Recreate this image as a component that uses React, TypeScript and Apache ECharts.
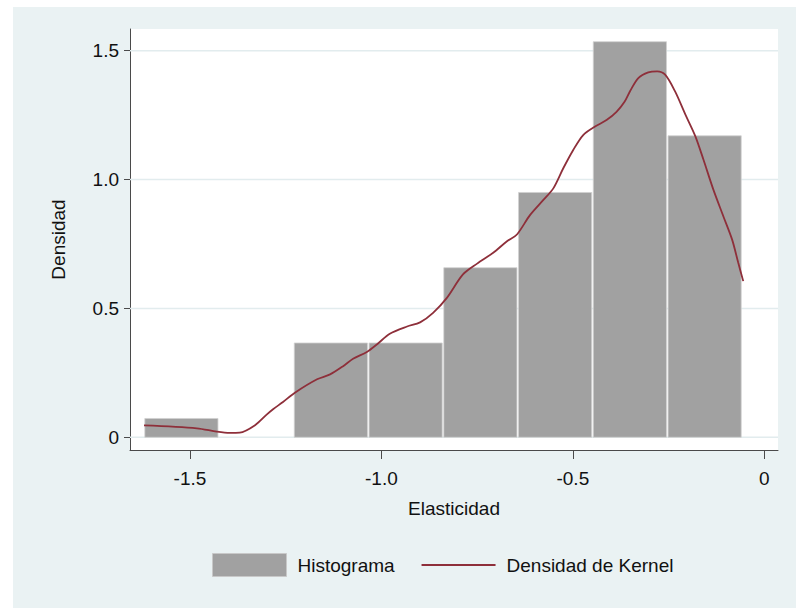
import { useEffect, useRef } from "react";
import * as echarts from "echarts";

const BG_COLOR = "#eaf2f3";
const BAR_COLOR = "#a1a1a1";
const KERNEL_COLOR = "#8e2f3a";
const FONT = "'Liberation Sans', Arial, sans-serif";

// histogram bin edges (elasticity) and densities
const binEdges = [-1.62, -1.4248, -1.2296, -1.0343, -0.8391, -0.6439, -0.4487, -0.2534, -0.0582];
const binDensity = [0.073, 0, 0.366, 0.366, 0.658, 0.95, 1.535, 1.17];

// kernel density curve
const kernelX = [
  -1.62, -1.482, -1.43, -1.396, -1.37, -1.33, -1.299, -1.283, -1.257, -1.226,
  -1.168, -1.134, -1.1, -1.074, -1.038, -1.012, -0.978, -0.933, -0.899, -0.865,
  -0.829, -0.787, -0.75, -0.708, -0.672, -0.646, -0.612, -0.577, -0.551, -0.525,
  -0.499, -0.473, -0.443, -0.412, -0.386, -0.365, -0.35, -0.329, -0.303, -0.28,
  -0.259, -0.233, -0.206, -0.18, -0.159, -0.133, -0.107, -0.084, -0.068, -0.055,
];
const kernelY = [
  0.046, 0.035, 0.022, 0.017, 0.018, 0.047, 0.089, 0.109, 0.137, 0.173,
  0.225, 0.244, 0.276, 0.305, 0.331, 0.36, 0.402, 0.43, 0.446, 0.483,
  0.541, 0.632, 0.674, 0.716, 0.761, 0.787, 0.862, 0.921, 0.966, 1.044,
  1.115, 1.173, 1.205, 1.231, 1.263, 1.302, 1.345, 1.394, 1.416, 1.42,
  1.407, 1.342, 1.252, 1.168, 1.078, 0.961, 0.858, 0.767, 0.677, 0.606,
];

const xTicks = [-1.5, -1.0, -0.5, 0];
const yTicks = [0, 0.5, 1.0, 1.5];

const X_MIN = -1.6566;
const X_MAX = 0.0358;

const fmt = (v: number) => (v === 0 ? "0" : v.toFixed(1));

export default function App() {
  const ref = useRef<HTMLDivElement>(null);

  useEffect(() => {
    if (!ref.current) return;
    const chart = echarts.init(ref.current, null, { renderer: "svg" });

    const bins = binDensity.map((d, i) => [binEdges[i], binEdges[i + 1], d]);
    const kernel = kernelX.map((x, i) => [x, kernelY[i]]);

    const axisLine = { show: true, lineStyle: { color: "#4a4a4a", width: 1 } };

    chart.setOption({
      animation: false,
      backgroundColor: "#ffffff",
      textStyle: { fontFamily: FONT },
      graphic: [
        {
          type: "rect",
          z: -2,
          shape: { x: 13, y: 7, width: 783, height: 601 },
          style: { fill: BG_COLOR },
        },
        {
          type: "rect",
          z: -1,
          shape: { x: 130, y: 29, width: 648, height: 421 },
          style: { fill: "#ffffff" },
        },
      ],
      grid: { left: 130, right: 18, top: 29, bottom: 158 },
      legend: {
        left: 212,
        top: 553,
        padding: 0,
        itemWidth: 74,
        itemHeight: 23,
        itemGap: 26,
        textStyle: { fontSize: 19, color: "#111", fontFamily: FONT, padding: [0, 0, 0, 6] },
        data: [
          {
            name: "Histograma",
            icon: "rect",
            itemStyle: { color: BAR_COLOR, borderColor: "#c8c8c8", borderWidth: 1 },
          },
          {
            name: "Densidad de Kernel",
            itemStyle: { opacity: 0 },
            lineStyle: { color: KERNEL_COLOR, width: 1.8 },
          },
        ],
      },
      xAxis: {
        type: "value",
        min: X_MIN,
        max: X_MAX,
        name: "Elasticidad",
        nameLocation: "middle",
        nameGap: 49,
        nameTextStyle: { fontSize: 19, color: "#111", fontFamily: FONT },
        axisLine: { ...axisLine, onZero: false },
        axisTick: { show: true, length: 9, customValues: xTicks, lineStyle: { color: "#4a4a4a" } },
        axisLabel: {
          customValues: xTicks,
          formatter: fmt,
          fontSize: 19,
          color: "#111",
          margin: 19,
          fontFamily: FONT,
        },
        splitLine: { show: false },
      },
      yAxis: {
        type: "value",
        min: -0.0493,
        max: 1.5844,
        name: "Densidad",
        nameLocation: "middle",
        nameGap: 62,
        nameRotate: 90,
        nameTextStyle: { fontSize: 19, color: "#111", fontFamily: FONT },
        axisLine: { ...axisLine, onZero: false },
        axisTick: { show: true, length: 6, customValues: yTicks, lineStyle: { color: "#4a4a4a" } },
        axisLabel: {
          customValues: yTicks,
          formatter: fmt,
          fontSize: 19,
          color: "#111",
          margin: 11,
          fontFamily: FONT,
        },
        splitLine: { show: false },
      },
      series: [
        {
          name: "grid",
          type: "custom",
          z: 1,
          silent: true,
          data: yTicks.map((v) => [v]),
          renderItem: (_params: any, api: any) => {
            const v = api.value(0);
            const a = api.coord([X_MIN, v]);
            const b = api.coord([X_MAX, v]);
            return {
              type: "line",
              shape: { x1: a[0], y1: a[1], x2: b[0], y2: b[1] },
              style: { stroke: "#e2ecee", lineWidth: 1.5 },
            };
          },
        },
        {
          name: "Histograma",
          type: "custom",
          z: 2,
          data: bins,
          renderItem: (_params: any, api: any) => {
            const x0 = api.value(0);
            const x1 = api.value(1);
            const h = api.value(2);
            if (!h) return null;
            const p0 = api.coord([x0, h]);
            const p1 = api.coord([x1, 0]);
            return {
              type: "rect",
              shape: { x: p0[0] + 0.8, y: p0[1], width: p1[0] - p0[0] - 1.6, height: p1[1] - p0[1] },
              style: { fill: BAR_COLOR, stroke: "#d0d0d0", lineWidth: 0.8 },
            };
          },
        },
        {
          name: "Densidad de Kernel",
          type: "line",
          z: 3,
          data: kernel,
          smooth: 0.3,
          symbol: "none",
          showSymbol: false,
          lineStyle: { color: KERNEL_COLOR, width: 1.8 },
          itemStyle: { color: KERNEL_COLOR },
        },
      ],
    });

    return () => chart.dispose();
  }, []);

  return (
    <div
      ref={ref}
      style={{ position: "fixed", left: 0, top: 0, width: 796, height: 608 }}
    />
  );
}
